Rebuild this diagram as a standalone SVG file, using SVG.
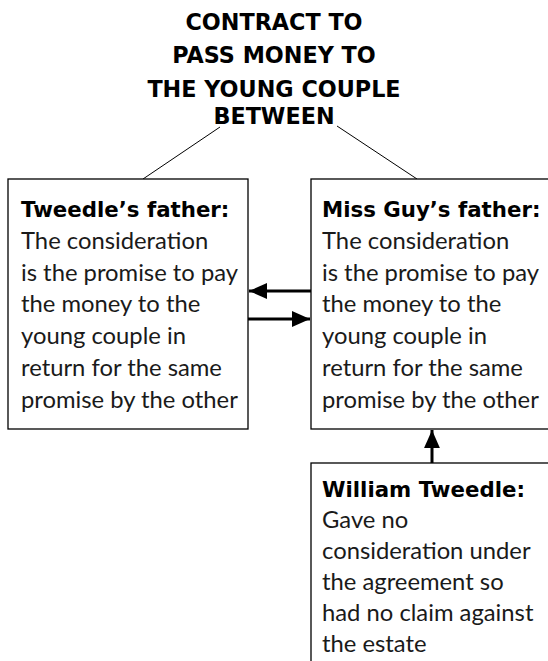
<svg xmlns="http://www.w3.org/2000/svg" width="548" height="661" viewBox="0 0 548 661">
  <defs>
    <marker id="head" viewBox="0 0 10 10" refX="10" refY="5" markerWidth="6" markerHeight="6" markerUnits="strokeWidth" orient="auto">
      <path d="M0,0.6 L10,5 L0,9.4 z" fill="#000"/>
    </marker>
    <style>
      .box { fill: #fff; stroke: #000; stroke-width: 1.3; }
      .title { font-family: "DejaVu Sans", "Liberation Sans", sans-serif; font-weight: 700; font-size: 22.3px; fill: #000; text-anchor: middle; }
      .body { font-family: Lato, "Liberation Sans", sans-serif; font-weight: 400; font-size: 23.8px; fill: #1a1a1a; }
      .head { font-family: "DejaVu Sans", "Liberation Sans", sans-serif; font-weight: 700; font-size: 21.3px; fill: #000; }
      .thin { stroke: #000; stroke-width: 1; fill: none; }
      .arrow { stroke: #000; stroke-width: 3; fill: none; marker-end: url(#head); }
    </style>
  </defs>

  <rect width="548" height="661" fill="#fff"/>

  <!-- heading -->
  <g id="title">
    <text class="title" x="274" y="30">CONTRACT TO</text>
    <text class="title" x="274" y="63">PASS MONEY TO</text>
    <text class="title" x="274" y="97">THE YOUNG COUPLE</text>
    <text class="title" x="274" y="124">BETWEEN</text>
  </g>

  <!-- connectors -->
  <g id="connectors">
    <line class="thin" x1="220" y1="127" x2="143" y2="179"/>
    <line class="thin" x1="337" y1="126" x2="417" y2="179"/>
    <line class="arrow" x1="311" y1="291" x2="249" y2="291"/>
    <line class="arrow" x1="248" y1="319" x2="310" y2="319"/>
    <line class="arrow" x1="432" y1="463" x2="432" y2="430"/>
  </g>

  <g id="tweedle-father">
    <rect class="box" x="8" y="179" width="240" height="250"/>
    <text class="head" x="21" y="217">Tweedle’s father:</text>
    <text class="body">
      <tspan x="21" y="249">The consideration</tspan>
      <tspan x="21" y="281">is the promise to pay</tspan>
      <tspan x="21" y="312">the money to the</tspan>
      <tspan x="21" y="344">young couple in</tspan>
      <tspan x="21" y="376">return for the same</tspan>
      <tspan x="21" y="408">promise by the other</tspan>
    </text>
  </g>

  <g id="guy-father">
    <rect class="box" x="311" y="179" width="250" height="250"/>
    <text class="head" x="322" y="217">Miss Guy’s father:</text>
    <text class="body">
      <tspan x="322" y="249">The consideration</tspan>
      <tspan x="322" y="281">is the promise to pay</tspan>
      <tspan x="322" y="312">the money to the</tspan>
      <tspan x="322" y="344">young couple in</tspan>
      <tspan x="322" y="376">return for the same</tspan>
      <tspan x="322" y="408">promise by the other</tspan>
    </text>
  </g>

  <g id="william-tweedle">
    <rect class="box" x="311" y="463" width="250" height="220"/>
    <text class="head" x="322" y="497">William Tweedle:</text>
    <text class="body">
      <tspan x="322" y="528">Gave no</tspan>
      <tspan x="322" y="559">consideration under</tspan>
      <tspan x="322" y="590">the agreement so</tspan>
      <tspan x="322" y="621">had no claim against</tspan>
      <tspan x="322" y="652">the estate</tspan>
    </text>
  </g>
</svg>
